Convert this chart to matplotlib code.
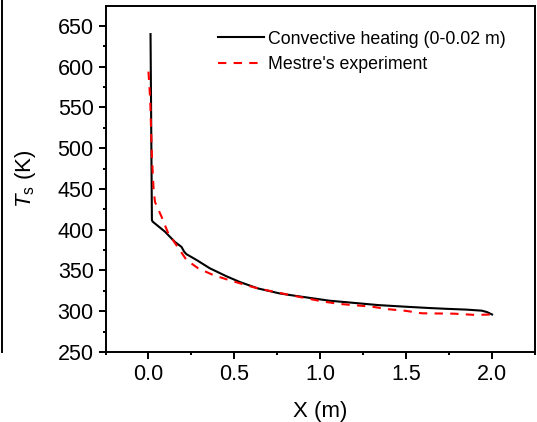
import matplotlib
matplotlib.use('Agg')
import matplotlib.pyplot as plt
from matplotlib.lines import Line2D

plt.rcParams['font.family'] = ['Liberation Sans', 'DejaVu Sans']
plt.rcParams['mathtext.fontset'] = 'custom'
plt.rcParams['mathtext.rm'] = 'Liberation Sans'
plt.rcParams['mathtext.it'] = 'Liberation Sans:italic'

# black curve: convective heating
x_conv = [0.012, 0.02, 0.024, 0.096, 0.154, 0.192, 0.208, 0.221, 0.279,
          0.357, 0.453, 0.53, 0.637, 0.76, 0.82, 1.05, 1.34, 1.5, 1.63,
          1.73, 1.85, 1.94, 1.97, 2.0]
t_conv = [640, 412, 410, 397.6, 385, 379, 373, 370, 363,
          352.7, 343, 336, 328, 322, 320, 313, 307.5, 305.5, 304,
          303, 302, 300.7, 299, 296]

# red dashed: Mestre's experiment
x_exp = [0.0, 0.01, 0.02, 0.03, 0.038, 0.076, 0.115, 0.163, 0.221, 0.289,
         0.376, 0.472, 0.569, 0.637, 0.82, 1.013, 1.11, 1.3, 1.4, 1.497,
         1.59, 1.78, 1.9, 2.0]
t_exp = [594, 560, 490, 449, 434, 416, 395.6, 381, 363, 352.7,
         344.5, 338, 332, 328, 320, 312, 309, 305.6, 302.4, 300.5,
         297.5, 297, 295.5, 296]

fig = plt.figure(figsize=(5.37, 4.22), dpi=100)
ax = fig.add_axes([0.1965, 0.1659, 0.7998, 0.8199])

ax.plot(x_conv, t_conv, color='black', lw=1.5, label='Convective heating (0-0.02 m)')
l2, = ax.plot(x_exp, t_exp, color='red', lw=1.5, label="Mestre's experiment")
l2.set_dashes((4, 3.5))

ax.set_xlim(-0.25, 2.25)
ax.set_ylim(250, 674.5)
ax.set_xticks([0.0, 0.5, 1.0, 1.5, 2.0])
ax.set_xticks([-0.25, 0.25, 0.75, 1.25, 1.75, 2.25], minor=True)
ax.set_yticks(range(250, 651, 50))
ax.set_yticks(range(275, 675, 50), minor=True)
ax.xaxis.set_major_formatter(matplotlib.ticker.FormatStrFormatter('%.1f'))

ax.tick_params(which='major', direction='out', length=5, width=1.4, labelsize=15.5)
ax.tick_params(which='minor', direction='out', length=2.5, width=1.4)
for s in ax.spines.values():
    s.set_linewidth(1.4)

ax.set_xlabel('X (m)', fontsize=16, labelpad=12)
ax.set_ylabel(r'$\mathit{T}_\mathrm{s}$ (K)', fontsize=16, labelpad=14)

ax.legend(loc='upper right', bbox_to_anchor=(0.96, 0.965), frameon=False,
          fontsize=12.8, handlelength=2.6, handletextpad=0.2, labelspacing=0.5,
          borderaxespad=0.3)

# leftover edge of neighbouring panel
fig.add_artist(Line2D([0.003, 0.003], [0.1659, 1.0], color='black', lw=1.4,
                      transform=fig.transFigure))

fig.savefig('out.png', dpi=100)
